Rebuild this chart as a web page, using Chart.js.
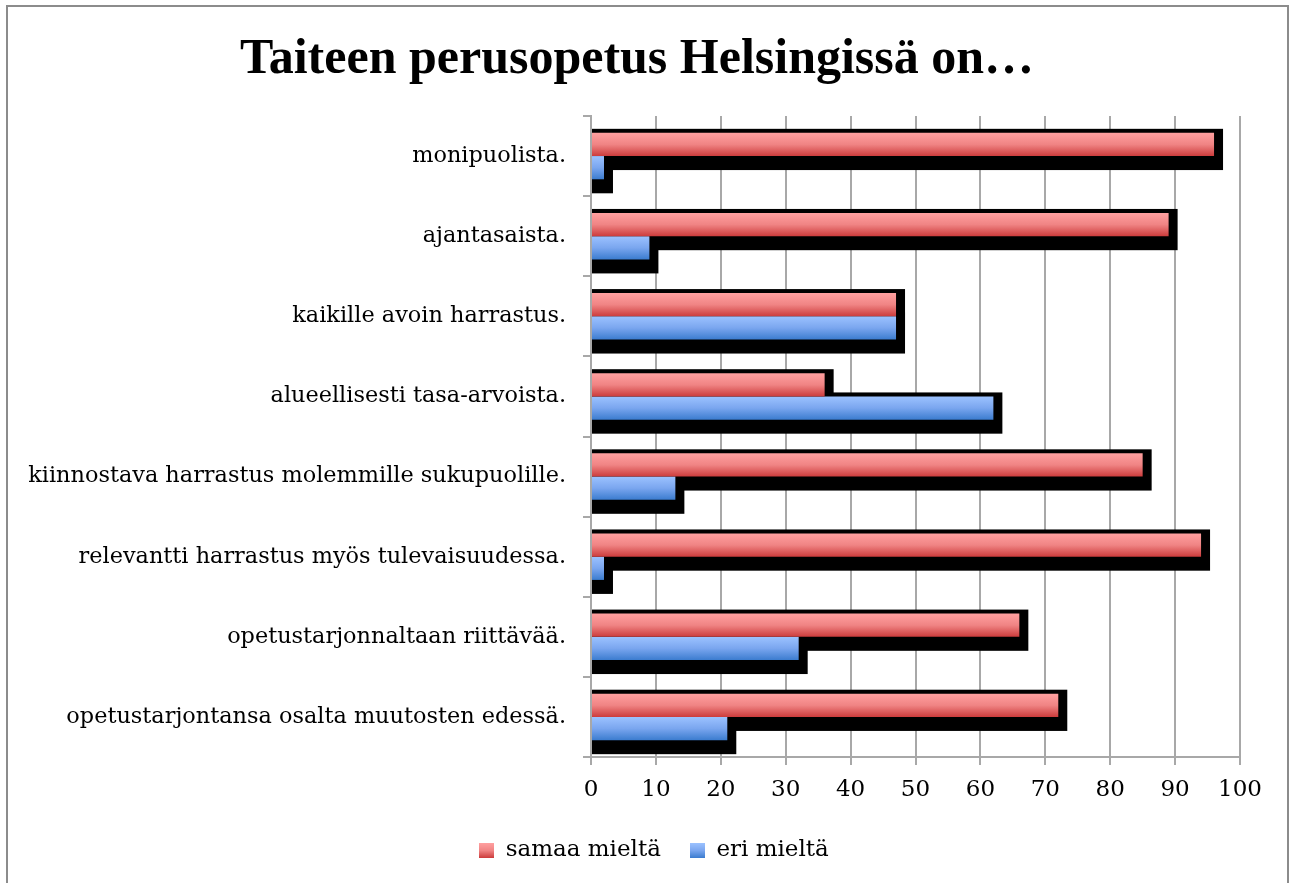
<!DOCTYPE html>
<html>
<head>
<meta charset="utf-8">
<title>Taiteen perusopetus Helsingissä on…</title>
<script src="https://cdn.jsdelivr.net/npm/chart.js@4/dist/chart.umd.min.js"></script>
<style>
    html, body { margin: 0; padding: 0; background: #fff; }
    #wrap { position: relative; width: 1290px; height: 883px; overflow: hidden; }
    #frame {
        position: absolute; left: 6px; top: 5px; width: 1283px; height: 900px;
        border: 2px solid #8c8c8c; box-sizing: border-box; pointer-events: none;
    }
    #myChart { position: absolute; left: 0; top: 0; }
</style>
</head>
<body>
<div id="wrap">
    <canvas id="myChart" width="1290" height="883"></canvas>
    <div id="frame"></div>
</div>
<script>
const categories = [
    'monipuolista.',
    'ajantasaista.',
    'kaikille avoin harrastus.',
    'alueellisesti tasa-arvoista.',
    'kiinnostava harrastus molemmille sukupuolille.',
    'relevantti harrastus myös tulevaisuudessa.',
    'opetustarjonnaltaan riittävää.',
    'opetustarjontansa osalta muutosten edessä.'
];
const samaaMielta = [96, 89, 47, 36, 85, 94, 66, 72];
const eriMielta = [2, 9, 47, 62, 13, 2, 32, 21];
const xTicks = [0, 10, 20, 30, 40, 50, 60, 70, 80, 90, 100];

const CAT_PCT = 0.58;
const RED = ['#ffa0a0', '#f08484', '#cc3c3c'];
const BLUE = ['#9cc2ff', '#7aa6ef', '#3b7ccf'];

// vertical gradient across a single bar, worked out from the category scale
function barFill(stops) {
    return (c) => {
        const chart = c.chart;
        const yScale = chart.scales && chart.scales.y;
        if (!yScale || c.dataIndex === undefined) return stops[1];
        const center = yScale.getPixelForValue(c.dataIndex);
        if (!isFinite(center)) return stops[1];
        const cat = yScale.height / categories.length;
        const thick = cat * CAT_PCT / 2;
        const y0 = center - thick + c.datasetIndex * thick;
        const g = chart.ctx.createLinearGradient(0, y0, 0, y0 + thick);
        g.addColorStop(0, stops[0]);
        g.addColorStop(0.5, stops[1]);
        g.addColorStop(1, stops[2]);
        return g;
    };
}

function swatch(stops) {
    const cv = document.createElement('canvas');
    cv.width = 15;
    cv.height = 15;
    const g = cv.getContext('2d');
    const gr = g.createLinearGradient(0, 0, 0, 15);
    gr.addColorStop(0, stops[0]);
    gr.addColorStop(0.5, stops[1]);
    gr.addColorStop(1, stops[2]);
    g.fillStyle = gr;
    g.fillRect(0, 0, 15, 15);
    return cv;
}
const swatches = [swatch(RED), swatch(BLUE)];

// black drop shadow behind every bar
const barShadow = {
    id: 'barShadow',
    beforeDatasetsDraw(chart) {
        const ctx = chart.ctx;
        ctx.save();
        ctx.fillStyle = '#000';
        chart.data.datasets.forEach((ds, i) => {
            chart.getDatasetMeta(i).data.forEach(bar => {
                const {x, y, base, height} = bar.getProps(['x', 'y', 'base', 'height'], true);
                const left = Math.min(x, base);
                const right = Math.max(x, base);
                ctx.fillRect(left, y - height / 2 - 4, right - left + 9, height + 18);
            });
        });
        ctx.restore();
    }
};

// nudge title and legend a little to the right of the canvas centre
const centreShift = {
    id: 'centreShift',
    afterLayout(chart) {
        if (chart.titleBlock) { chart.titleBlock.left += 7; chart.titleBlock.right += 7; }
        if (chart.legend) { chart.legend.left += 24; chart.legend.right += 24; }
    }
};

const PAD_LEFT = 20;
const textFont = { family: 'DejaVu Serif', size: 22.4 };

const ctx = document.getElementById('myChart').getContext('2d');

new Chart(ctx, {
    type: 'bar',
    data: {
        labels: categories,
        datasets: [
            {
                label: 'samaa mieltä',
                data: samaaMielta,
                backgroundColor: barFill(RED),
                borderWidth: 0,
                categoryPercentage: CAT_PCT,
                barPercentage: 1
            },
            {
                label: 'eri mieltä',
                data: eriMielta,
                backgroundColor: barFill(BLUE),
                borderWidth: 0,
                categoryPercentage: CAT_PCT,
                barPercentage: 1
            }
        ]
    },
    options: {
        indexAxis: 'y',
        responsive: false,
        animation: false,
        devicePixelRatio: 1,
        layout: { padding: { left: PAD_LEFT, right: 50, top: 0, bottom: 11 } },
        scales: {
            x: {
                min: 0,
                max: 100,
                afterBuildTicks: (s) => { s.ticks = xTicks.map(v => ({ value: v })); },
                afterFit: (s) => { s.height = 53; },
                grid: { color: '#a8a8a8', lineWidth: 2, tickLength: 8 },
                border: { color: '#a8a8a8', width: 2 },
                ticks: { color: '#000', font: { family: 'DejaVu Serif', size: 23 }, padding: 11 }
            },
            y: {
                afterFit: (s) => { s.width = 591 - PAD_LEFT; },
                grid: { offset: true, drawOnChartArea: false, color: '#a8a8a8', lineWidth: 2, tickLength: 8 },
                border: { color: '#a8a8a8', width: 2 },
                ticks: { color: '#000', font: textFont, padding: 17 }
            }
        },
        plugins: {
            title: {
                display: true,
                text: 'Taiteen perusopetus Helsingissä on…',
                color: '#000',
                font: { family: 'Liberation Serif', size: 50, weight: 'bold' },
                padding: { top: 30, bottom: 26 }
            },
            legend: {
                position: 'bottom',
                labels: {
                    usePointStyle: true,
                    boxWidth: 15,
                    boxHeight: 15,
                    padding: 29,
                    color: '#000',
                    font: { family: 'DejaVu Serif', size: 23 },
                    generateLabels: (chart) => chart.data.datasets.map((ds, i) => ({
                        text: ds.label,
                        pointStyle: swatches[i],
                        datasetIndex: i,
                        fontColor: '#000',
                        hidden: false,
                        lineWidth: 0,
                        strokeStyle: 'rgba(0,0,0,0)'
                    }))
                }
            },
            tooltip: { enabled: false }
        }
    },
    plugins: [barShadow, centreShift]
});
</script>
</body>
</html>
